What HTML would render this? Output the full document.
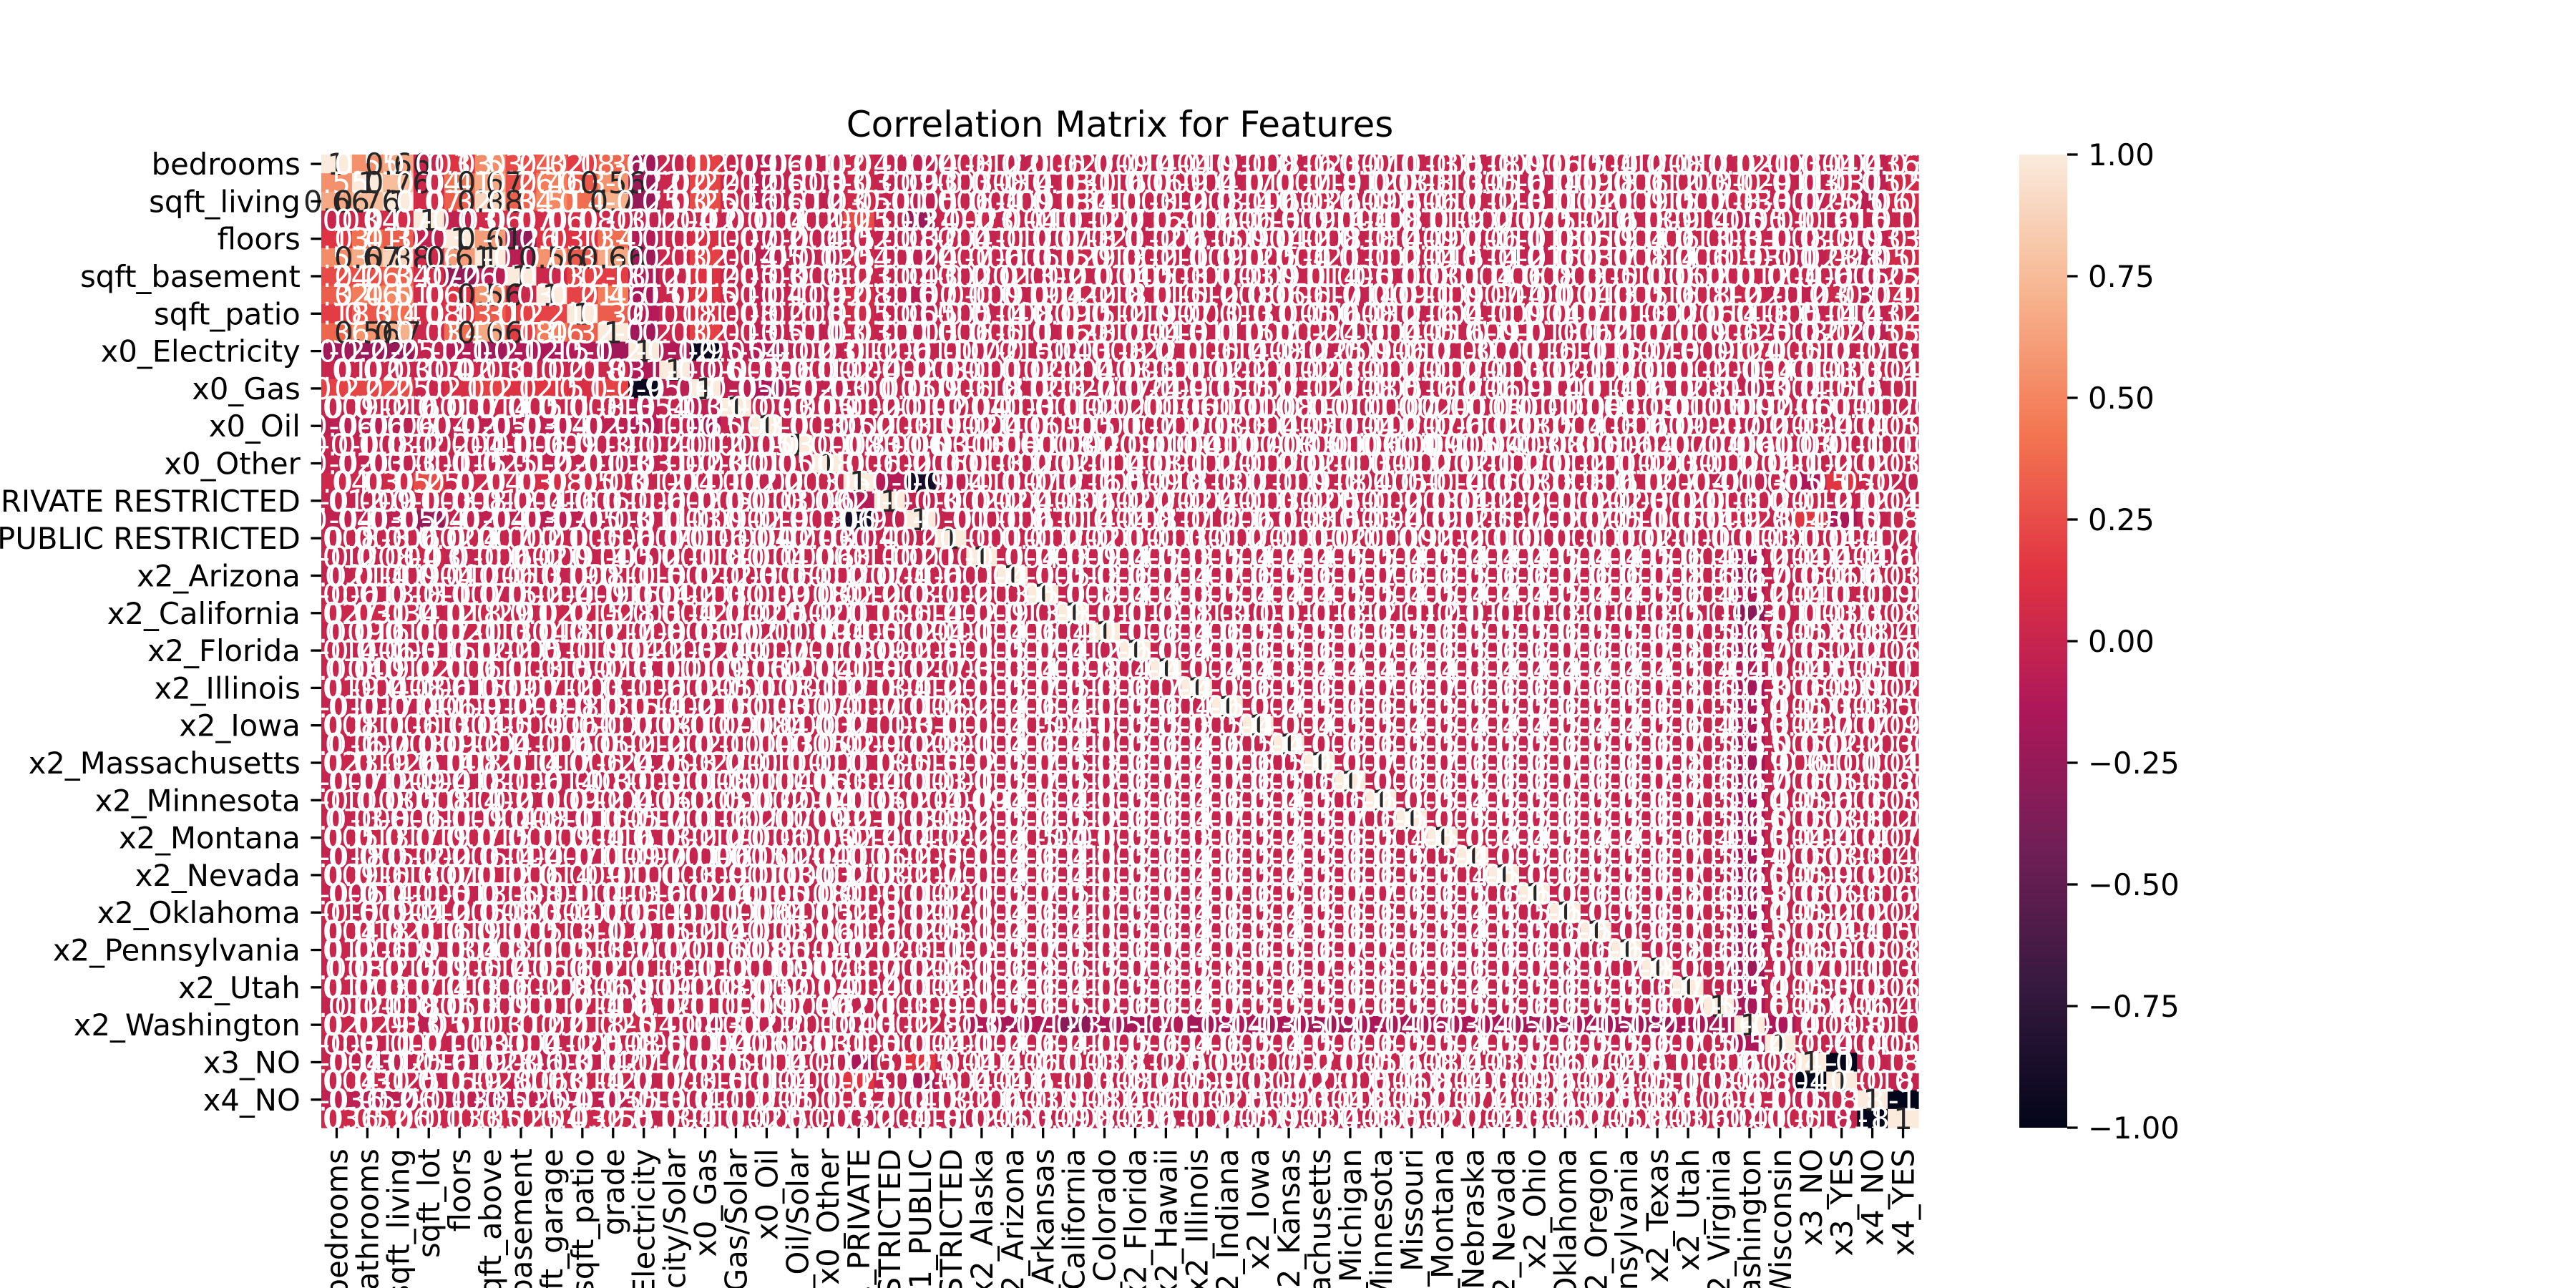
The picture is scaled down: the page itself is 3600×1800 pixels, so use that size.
<!DOCTYPE html>
<html>
<head>
<meta charset="utf-8">
<style>
html,body{margin:0;padding:0;background:#fff;overflow:hidden;}
svg{display:block;}
text{font-family:"DejaVu Sans","Liberation Sans",sans-serif;}
</style>
</head>
<body>
<svg id="chart" xmlns="http://www.w3.org/2000/svg" width="3600" height="1800" viewBox="0 0 3600 1800">
<rect x="0" y="0" width="3600" height="1800" fill="#ffffff"/>
<text x="1565" y="191" font-size="50" text-anchor="middle" fill="#000">Correlation Matrix for Features</text>
<defs>
<linearGradient id="cbgrad" x1="0" y1="1" x2="0" y2="0">
<stop offset="0" stop-color="#03051a"/>
<stop offset="0.143" stop-color="#35193e"/>
<stop offset="0.286" stop-color="#701f57"/>
<stop offset="0.429" stop-color="#ad1759"/>
<stop offset="0.571" stop-color="#e13342"/>
<stop offset="0.714" stop-color="#f37651"/>
<stop offset="0.857" stop-color="#f6b48f"/>
<stop offset="1" stop-color="#faebdd"/>
</linearGradient>
</defs>
<g id="cellsG"></g>
<g id="annotsG"></g>
<g id="yaxisG"></g>
<g id="xaxisG"></g>
<g id="cbarG">
<rect x="2822" y="216" width="67" height="1360" fill="url(#cbgrad)"/>
</g>
</svg>
<script>
const features = ["bedrooms","bathrooms","sqft_living","sqft_lot","floors","sqft_above","sqft_basement","sqft_garage","sqft_patio","grade","x0_Electricity","x0_Electricity/Solar","x0_Gas","x0_Gas/Solar","x0_Oil","x0_Oil/Solar","x0_Other","x1_PRIVATE","x1_PRIVATE RESTRICTED","x1_PUBLIC","x1_PUBLIC RESTRICTED","x2_Alaska","x2_Arizona","x2_Arkansas","x2_California","x2_Colorado","x2_Florida","x2_Hawaii","x2_Illinois","x2_Indiana","x2_Iowa","x2_Kansas","x2_Massachusetts","x2_Michigan","x2_Minnesota","x2_Missouri","x2_Montana","x2_Nebraska","x2_Nevada","x2_Ohio","x2_Oklahoma","x2_Oregon","x2_Pennsylvania","x2_Texas","x2_Utah","x2_Virginia","x2_Washington","x2_Wisconsin","x3_NO","x3_YES","x4_NO","x4_YES"];
// lower triangle of the correlation matrix (row i holds columns 0..i)
const corrRows = [
[1],
[0.55,1],
[0.66,0.76,1],
[0.003,0.04,0.07,1],
[0.13,0.41,0.32,-0.03,1],
[0.53,0.67,0.88,0.06,0.61,1],
[0.24,0.26,0.34,0.07,-0.26,-0.07,1],
[0.32,0.46,0.51,0.06,0.13,0.56,0.03,1],
[0.18,0.3,0.4,0.08,0.13,0.31,0.2,0.21,1],
[0.36,0.56,0.7,0.03,0.4,0.66,0.18,0.46,0.32,1],
[-0.2,-0.22,-0.25,-0.02,-0.1,-0.2,-0.12,-0.15,-0.1,-0.2,1],
[0.01,0.02,0.03,0.004,0.02,0.03,0.011,0.02,0.018,0.03,-0.12,1],
[0.2,0.22,0.25,0.02,0.1,0.2,0.12,0.15,0.1,0.2,-0.95,-0.06,1],
[0.009,0.012,0.016,-0.001,0.007,0.014,0.005,0.011,0.008,0.013,-0.054,-0.003,-0.05,1],
[-0.06,-0.06,-0.06,0.004,-0.02,-0.05,-0.03,-0.04,-0.02,-0.05,-0.1,-0.006,-0.15,-0.003,1],
[-0.01,-0.008,-0.012,0.002,-0.004,-0.01,-0.006,-0.009,-0.003,-0.011,-0.02,-0.001,-0.02,-0.0005,-0.003,1],
[-0.02,-0.03,-0.03,0.001,-0.015,-0.025,-0.012,-0.02,-0.01,-0.03,-0.031,-0.002,-0.03,-0.001,-0.005,-0.0008,1],
[0.04,0.03,0.05,0.25,0.02,0.04,0.03,0.08,0.05,0.03,0.012,0.004,-0.01,0.002,-0.02,0.003,0.006,1],
[-0.012,-0.009,-0.01,-0.003,-0.008,-0.012,-0.004,-0.016,-0.006,-0.011,0.006,-0.002,-0.005,-0.001,0.003,-0.0006,0.002,-0.1,1],
[-0.04,-0.03,-0.05,-0.24,-0.02,-0.04,-0.03,-0.07,-0.05,-0.03,-0.011,-0.003,0.009,-0.002,0.019,-0.003,-0.006,-0.9,-0.03,1],
[0.008,0.003,0.006,-0.002,0.004,0.007,0.002,0.01,0.005,0.006,-0.007,-0.001,0.006,-0.0004,-0.002,-0.0003,-0.001,-0.04,-0.002,-0.01,1],
[.012,-.008,.004,.03,-.011,.006,-.002,.009,-.014,.005,-.02,.001,.018,-.001,.004,-.0006,.003,.011,-.002,-.01,.001,1],
[-.021,.014,.009,-.004,.017,-.006,.013,-.019,.008,.011,.015,-.002,-.012,.003,-.006,-.001,.002,-.007,.004,.006,-.001,-.004,1],
[.006,-.013,-.018,.011,-.007,-.015,.002,.004,-.009,-.016,-.004,.002,.003,-.001,.009,.0008,-.002,.012,-.003,-.011,.002,-.003,-.005,1],
[.027,.031,.034,-.012,.018,.029,.01,.022,.015,.028,-.03,.004,.027,-.002,.005,-.002,.001,-.016,.006,.014,-.002,-.009,-.013,-.008,1],
[-.009,.016,.011,.007,.021,.013,-.004,.018,.012,.017,.008,-.003,-.007,.002,-.01,.0009,.004,.005,-.002,-.004,.001,-.004,-.006,-.004,-.011,1],
[.014,-.006,.003,-.016,-.012,.002,.005,-.011,.019,-.004,.022,.003,-.024,-.001,.007,-.001,-.003,-.009,.002,.008,-.001,-.005,-.007,-.004,-.012,-.006,1],
[-.004,.009,.012,.021,.006,.011,.003,.015,-.007,.013,-.011,.001,.009,.0006,.002,-.0004,.001,.018,-.002,-.017,.003,-.003,-.004,-.003,-.008,-.004,-.004,1],
[.019,.004,-.008,.006,-.015,-.009,.007,.012,.003,-.011,.006,-.002,-.005,.001,-.008,.001,.002,-.013,.004,.012,-.001,-.005,-.007,-.005,-.013,-.006,-.007,-.004,1],
[-.011,-.017,-.014,-.006,.009,-.012,-.003,-.008,-.013,-.015,.014,.002,-.015,-.001,.003,.0007,-.001,.007,-.001,-.006,.002,-.004,-.006,-.004,-.011,-.005,-.006,-.004,-.006,1],
[.008,.011,.006,.013,-.004,.005,.009,-.006,.01,.007,-.008,.001,.007,-.0008,.004,-.0003,.002,-.011,.003,.01,-.001,-.004,-.005,-.004,-.01,-.005,-.005,-.003,-.005,-.004,1],
[-.016,.007,-.003,-.009,.012,.004,-.011,.006,-.005,.002,.012,-.002,-.011,.001,-.003,.0005,-.002,.009,-.002,-.008,.001,-.004,-.006,-.004,-.011,-.005,-.006,-.004,-.006,-.005,-.004,1],
[.023,.019,.026,-.014,.008,.021,.014,.017,.006,.024,-.025,.003,.022,-.001,.011,-.001,.001,-.018,.005,.015,-.002,-.005,-.007,-.005,-.013,-.006,-.007,-.004,-.007,-.006,-.005,-.006,1],
[-.007,-.012,-.009,.004,-.018,-.011,.006,-.014,-.008,-.01,.009,-.001,-.008,.001,-.004,.0006,.003,.004,-.001,-.003,.001,-.005,-.007,-.005,-.012,-.006,-.007,-.004,-.007,-.006,-.005,-.006,-.007,1],
[.011,-.003,.005,.008,.014,.002,.01,-.009,.012,.004,-.006,.002,.005,-.0007,.002,-.0004,-.001,-.005,.002,.004,-.0009,-.004,-.006,-.004,-.011,-.005,-.006,-.004,-.006,-.005,-.004,-.005,-.006,-.006,1],
[-.013,.008,-.006,-.011,-.009,-.004,-.008,.011,-.016,-.005,.017,-.001,-.016,.002,-.007,.0009,.002,.01,-.003,-.009,.002,-.005,-.006,-.005,-.012,-.006,-.006,-.004,-.007,-.005,-.005,-.005,-.007,-.006,-.005,1],
[.005,.013,.017,.019,.007,.015,.001,.009,.004,.016,-.013,.002,.012,-.001,.006,-.0005,-.002,.014,-.004,-.012,.002,-.004,-.005,-.004,-.01,-.005,-.005,-.003,-.006,-.005,-.004,-.005,-.006,-.005,-.004,-.005,1],
[-.018,-.005,-.012,.002,-.006,-.014,.004,-.007,-.011,-.009,.007,-.001,-.006,.0005,-.002,.0004,.001,-.006,.002,.005,-.001,-.004,-.006,-.004,-.011,-.005,-.006,-.004,-.006,-.005,-.004,-.005,-.006,-.006,-.005,-.005,-.004,1],
[.009,.016,.013,-.007,.011,.012,.006,.014,.009,.01,-.01,.003,.009,-.001,-.003,-.0003,.002,-.008,.002,.007,-.001,-.004,-.006,-.004,-.011,-.005,-.006,-.004,-.006,-.005,-.004,-.005,-.006,-.006,-.005,-.005,-.004,-.005,1],
[-.006,-.014,-.011,.005,-.013,-.016,.008,-.01,-.004,-.013,.016,-.002,-.014,.001,.005,.0008,-.001,.003,-.001,-.002,.001,-.005,-.007,-.005,-.013,-.006,-.007,-.004,-.007,-.006,-.005,-.006,-.007,-.007,-.006,-.006,-.005,-.006,-.006,1],
[.015,-.009,-.004,.012,-.005,-.008,.003,-.004,.007,-.006,.011,.001,-.01,-.0006,.004,-.0005,.002,.008,-.002,-.007,.001,-.004,-.006,-.004,-.011,-.005,-.006,-.004,-.006,-.005,-.004,-.005,-.006,-.006,-.005,-.005,-.004,-.005,-.005,-.006,1],
[.004,.018,.021,.016,.019,.017,.005,.013,.011,.02,-.015,.002,.014,-.001,.003,-.0006,.001,.006,-.002,-.005,.001,-.004,-.006,-.004,-.011,-.005,-.006,-.004,-.006,-.005,-.004,-.005,-.006,-.006,-.005,-.005,-.004,-.005,-.005,-.006,-.005,1],
[.012,.006,.009,-.013,.004,.008,.011,.005,.013,.007,-.007,-.001,.006,.0008,.006,.0004,-.002,-.012,.003,.011,-.002,-.005,-.007,-.005,-.013,-.006,-.007,-.004,-.007,-.006,-.005,-.006,-.007,-.007,-.006,-.006,-.005,-.006,-.006,-.007,-.006,-.006,1],
[-.008,.012,.015,.009,.006,.014,-.006,.016,.002,.011,.013,.001,-.012,-.001,-.009,.0007,.003,.007,-.002,-.006,.001,-.006,-.008,-.006,-.015,-.007,-.008,-.005,-.008,-.007,-.006,-.007,-.008,-.008,-.007,-.007,-.006,-.007,-.007,-.008,-.007,-.007,-.008,1],
[.017,.003,.007,.014,.013,.006,.002,.008,-.006,.009,-.009,.002,.008,-.0005,.002,-.0004,-.001,.004,-.001,-.004,.001,-.004,-.006,-.004,-.011,-.005,-.006,-.004,-.006,-.005,-.004,-.005,-.006,-.006,-.005,-.005,-.004,-.005,-.005,-.006,-.005,-.005,-.006,-.007,1],
[-.012,.01,.008,-.005,.003,.009,.001,.012,.014,.006,-.012,.001,.011,-.0009,.007,-.0006,.002,-.01,.003,.009,-.001,-.005,-.006,-.005,-.012,-.006,-.006,-.004,-.007,-.005,-.005,-.005,-.007,-.006,-.005,-.006,-.005,-.005,-.006,-.006,-.005,-.005,-.006,-.007,-.005,1],
[.021,.029,.033,-.05,.01,.03,.012,.02,.018,.025,.04,-.004,-.03,.002,-.02,.001,-.004,-.03,.002,.028,-.003,-.12,-.17,-.12,-.3,-.15,-.17,-.1,-.18,-.14,-.13,-.15,-.19,-.17,-.14,-.16,-.13,-.14,-.15,-.18,-.14,-.15,-.18,-.21,-.14,-.16,1],
[.003,-.011,-.007,.01,-.008,-.01,.004,-.012,.005,-.008,.005,-.001,-.004,.0006,-.003,.0003,.001,.005,-.001,-.004,.001,-.004,-.006,-.004,-.011,-.005,-.006,-.004,-.006,-.005,-.004,-.005,-.006,-.006,-.005,-.005,-.004,-.005,-.005,-.006,-.005,-.005,-.006,-.007,-.005,-.005,-.14,1],
[-.004,-.031,-.025,.016,-.019,-.028,.006,-.03,-.014,-.027,.017,-.003,-.015,.001,.004,-.001,.002,-.15,.012,.15,-.004,.004,-.006,.011,-.003,.008,-.012,.005,-.009,.003,.007,-.002,.01,-.005,.006,-.008,.004,-.003,.009,-.006,.002,-.004,.005,-.011,.003,.006,-.008,.004,1],
[.004,.031,.025,-.016,.019,.028,-.006,.03,.014,.027,-.017,.003,.015,-.001,-.004,.001,-.002,.15,-.012,-.15,.004,-.004,.006,-.011,.003,-.008,.012,-.005,.009,-.003,-.007,.002,-.01,.005,-.006,.008,-.004,.003,-.009,.006,-.002,.004,-.005,.011,-.003,-.006,.008,-.004,-1,1],
[-.036,-.052,-.06,-.01,-.033,-.05,-.025,-.04,-.032,-.055,.013,-.004,-.011,.002,-.005,.001,-.003,.02,-.004,-.018,.002,.006,-.003,.009,-.008,.004,-.006,.011,-.002,.005,-.009,.003,-.004,.008,-.005,.002,-.007,.004,-.003,.006,-.002,.005,-.008,.003,-.006,.004,.01,-.005,-.018,.018,1],
[.036,.052,.06,.01,.033,.05,.025,.04,.032,.055,-.013,.004,.011,-.002,.005,-.001,.003,-.02,.004,.018,-.002,-.006,.003,-.009,.008,-.004,.006,-.011,.002,-.005,.009,-.003,.004,-.008,.005,-.002,.007,-.004,.003,-.006,.002,-.005,.008,-.003,.006,-.004,-.01,.005,.018,-.018,-1,1]
];
const cbTicks = [1.00,0.75,0.50,0.25,0.00,-0.25,-0.50,-0.75,-1.00];
const cbTickLabels = ["1.00","0.75","0.50","0.25","0.00","\u22120.25","\u22120.50","\u22120.75","\u22121.00"];

(function(){
const NS = "http://www.w3.org/2000/svg";
const N = features.length;
const pLeft = 449, pRight = 2681, pTop = 216, pBottom = 1576;
const cw = (pRight - pLeft) / N, ch = (pBottom - pTop) / N;
function xPos(j){ return pLeft + j * cw; }
function yPos(i){ return pTop + i * ch; }
function cbY(v){ return pTop + (1 - v) / 2 * (pBottom - pTop); }

const stops = [[0,[3,5,26]],[0.143,[53,25,62]],[0.286,[112,31,87]],[0.429,[173,23,89]],[0.571,[225,51,66]],[0.714,[243,118,81]],[0.857,[246,180,143]],[1,[250,235,221]]];
function rocket(v){
  const t = Math.max(0, Math.min(1, (v + 1) / 2));
  for (let k = 1; k < stops.length; k++){
    if (t <= stops[k][0]){
      const a = stops[k-1], b = stops[k];
      const f = (t - a[0]) / (b[0] - a[0]);
      return [0,1,2].map(c => Math.round(a[1][c] + f * (b[1][c] - a[1][c])));
    }
  }
  return stops[stops.length-1][1];
}
function lum(rgb){
  const l = rgb.map(c => { c /= 255; return c <= 0.03928 ? c / 12.92 : Math.pow((c + 0.055) / 1.055, 2.4); });
  return 0.2126 * l[0] + 0.7152 * l[1] + 0.0722 * l[2];
}
function g2(v){
  if (v === 0) return "0";
  return String(Number(v.toPrecision(2)));
}
function val(i, j){
  const r = i >= j ? corrRows[i] : corrRows[j];
  const c = i >= j ? j : i;
  const v = r ? r[c] : undefined;
  return v === undefined ? 0 : v;
}

const cellsG = document.getElementById('cellsG');
const annotsG = document.getElementById('annotsG');
for (let i = 0; i < N; i++){
  for (let j = 0; j < N; j++){
    const v = val(i, j);
    const rgb = rocket(v);
    const r = document.createElementNS(NS, 'rect');
    r.setAttribute('x', xPos(j).toFixed(2));
    r.setAttribute('y', yPos(i).toFixed(2));
    r.setAttribute('width', (cw + 0.6).toFixed(2));
    r.setAttribute('height', (ch + 0.6).toFixed(2));
    r.setAttribute('fill', 'rgb(' + rgb.join(',') + ')');
    
    
    cellsG.appendChild(r);
  }
}
for (let i = 0; i < N; i++){
  for (let j = 0; j < N; j++){
    const v = val(i, j);
    const rgb = rocket(v);
    const t = document.createElementNS(NS, 'text');
    t.setAttribute('x', (xPos(j) + cw / 2).toFixed(2));
    t.setAttribute('y', (yPos(i) + ch / 2 + 15).toFixed(2));
    t.setAttribute('font-size', '41.7');
    t.setAttribute('text-anchor', 'middle');
    t.setAttribute('fill', lum(rgb) > 0.408 ? '#262626' : '#ffffff');
    
    
    t.textContent = g2(v);
    annotsG.appendChild(t);
  }
}
const yaxisG = document.getElementById('yaxisG');
for (let i = 0; i < N; i += 2){
  const cy = yPos(i) + ch / 2;
  const tk = document.createElementNS(NS, 'line');
  tk.setAttribute('x1', pLeft - 14.6); tk.setAttribute('x2', pLeft);
  tk.setAttribute('y1', cy); tk.setAttribute('y2', cy);
  tk.setAttribute('stroke', '#000'); tk.setAttribute('stroke-width', '3.3');
  
  
  yaxisG.appendChild(tk);
  const t = document.createElementNS(NS, 'text');
  t.setAttribute('x', pLeft - 29.2);
  t.setAttribute('y', cy + 15);
  t.setAttribute('font-size', '41.7');
  t.setAttribute('text-anchor', 'end');
  
  
  t.textContent = features[i];
  yaxisG.appendChild(t);
}
const xaxisG = document.getElementById('xaxisG');
for (let j = 0; j < N; j++){
  const cx = xPos(j) + cw / 2;
  const tk = document.createElementNS(NS, 'line');
  tk.setAttribute('x1', cx); tk.setAttribute('x2', cx);
  tk.setAttribute('y1', pBottom); tk.setAttribute('y2', pBottom + 14.6);
  tk.setAttribute('stroke', '#000'); tk.setAttribute('stroke-width', '3.3');
  
  
  xaxisG.appendChild(tk);
  const t = document.createElementNS(NS, 'text');
  t.setAttribute('transform', 'translate(' + (cx + 15).toFixed(2) + ',' + (pBottom + 29.2) + ') rotate(-90)');
  t.setAttribute('font-size', '41.7');
  t.setAttribute('text-anchor', 'end');
  
  
  t.textContent = features[j];
  xaxisG.appendChild(t);
}
const cbarG = document.getElementById('cbarG');
cbTicks.forEach((v, k) => {
  const y = cbY(v);
  const tk = document.createElementNS(NS, 'line');
  tk.setAttribute('x1', 2889); tk.setAttribute('x2', 2903.6);
  tk.setAttribute('y1', y); tk.setAttribute('y2', y);
  tk.setAttribute('stroke', '#000'); tk.setAttribute('stroke-width', '3.3');
  
  
  cbarG.appendChild(tk);
  const t = document.createElementNS(NS, 'text');
  t.setAttribute('x', 2918);
  t.setAttribute('y', y + 15);
  t.setAttribute('font-size', '41.7');
  
  
  t.textContent = cbTickLabels[k];
  cbarG.appendChild(t);
});
})();
</script>
</body>
</html>
